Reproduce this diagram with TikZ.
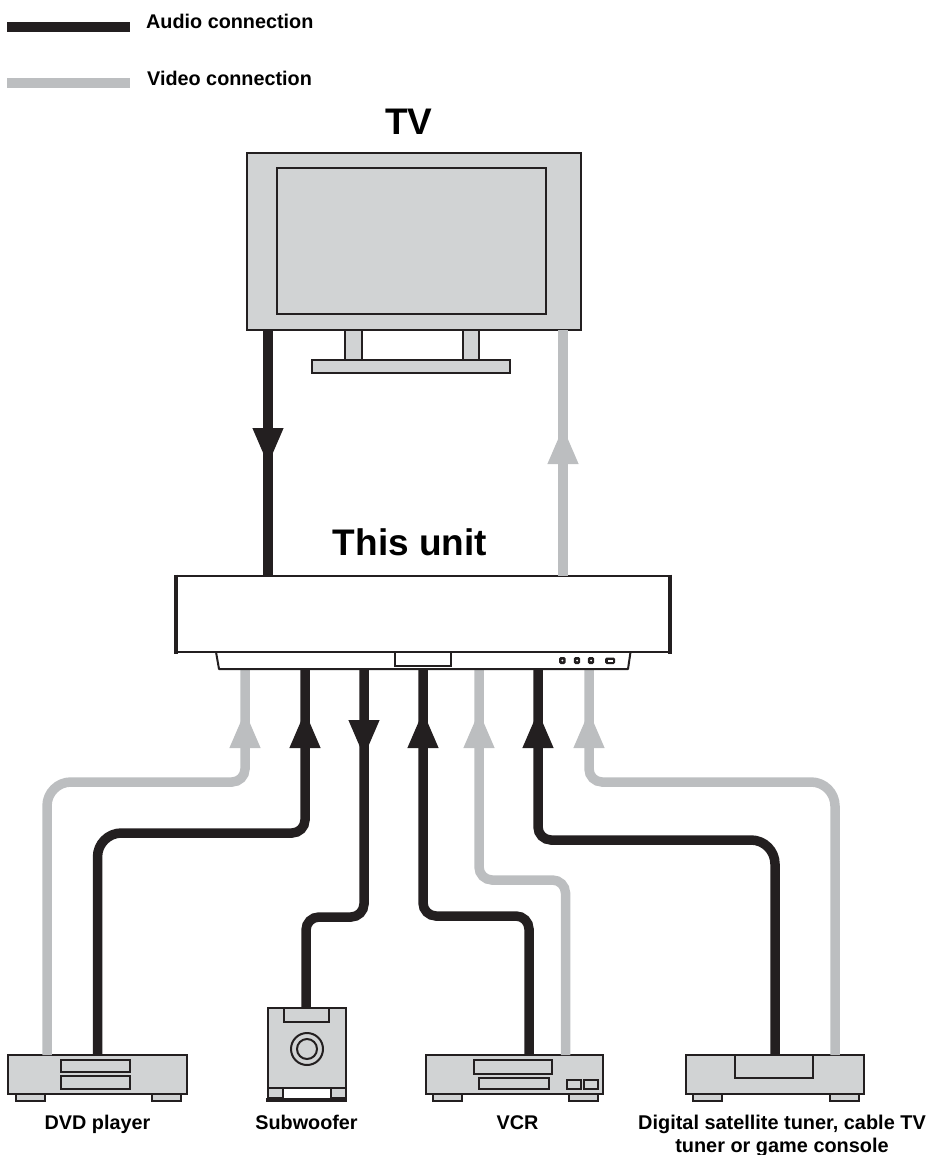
\documentclass[tikz,border=0pt]{standalone}
\usepackage{fontspec}
\setmainfont{Liberation Sans}
\usetikzlibrary{arrows.meta,decorations.markings}

\definecolor{inkblack}{HTML}{231F20}
\definecolor{cablegray}{HTML}{BCBEC0}
\definecolor{bodygray}{HTML}{D1D3D4}

\tikzset{
  audio/.style={line width=9.5pt,draw=inkblack},
  video/.style={line width=9.5pt,draw=cablegray},
  bigbend/.style={rounded corners=24pt},
  smallbend/.style={rounded corners=13pt},
  headat/.style={postaction={decorate,decoration={markings,
    mark=at position #1 with {\arrow{Triangle[length=38pt,width=28pt]}}}}},
  panel/.style={draw=inkblack,fill=bodygray,line width=2pt,inner sep=0pt,outer sep=0pt,anchor=north west},
  slot/.style={draw=inkblack,fill=bodygray,line width=2pt},
  smalltext/.style={font=\bfseries\fontsize{19.8}{23.5}\selectfont,align=center,inner sep=0pt,anchor=base},
  bigtext/.style={font=\bfseries\fontsize{37}{40}\selectfont,inner sep=0pt,anchor=base}
}

\begin{document}
\begin{tikzpicture}[x=1pt,y=-1pt]
  \useasboundingbox (0,0) rectangle (929,1155);

  %draw legend
  \coordinate (keyA) at (7,27);
  \coordinate (keyB) at (7,83);
  \node[smalltext,anchor=base west] (audiotext) at (146,29) {Audio connection};
  \node[smalltext,anchor=base west] (videotext) at (147,85.5) {Video connection};
  \draw[inkblack,line width=10pt] (keyA) -- ++(123,0);
  \draw[cablegray,line width=10pt] (keyB) -- ++(123,0);

  %draw titles
  \node[bigtext] (tvtext) at (409,135) {TV};
  \node[bigtext] (unittext) at (410,555) {This unit};

  %draw boxes
  \node[panel,minimum width=334pt,minimum height=177pt] (tv) at (247,153) {};
  \node[panel,fill=white,minimum width=494pt,minimum height=76pt] (unit) at (176,576) {};
  \node[panel,minimum width=179pt,minimum height=39pt] (dvd) at (8,1055) {};
  \node[panel,minimum width=78pt,minimum height=80pt] (sub) at (268,1008) {};
  \node[panel,minimum width=177pt,minimum height=39pt] (vcr) at (426,1055) {};
  \node[panel,minimum width=178pt,minimum height=39pt] (sat) at (686,1055) {};

  %draw connection ends
  \foreach \pname/\x in {u1/245,u2/305,u3/364,u4/423,u5/479,u6/538,u7/589}
    \coordinate (\pname) at (\x,669);
  \coordinate (dvdV) at ([xshift=-50.5pt]dvd.north);
  \coordinate (dvdA) at (dvd.north);
  \coordinate (subA) at ([xshift=-1pt]sub.north);
  \coordinate (vcrA) at ([xshift=14.5pt]vcr.north);
  \coordinate (vcrV) at ([xshift=51pt]vcr.north);
  \coordinate (satA) at (sat.north);
  \coordinate (satV) at ([xshift=60pt]sat.north);

  %draw cables
  \draw[audio,headat=136pt] ([xshift=-146pt]tv.south) -- ([xshift=-155pt]unit.north);
  \draw[video,headat=150pt] ([xshift=140pt]unit.north) -- ([xshift=149pt]tv.south);
  \draw[video,headat=-41pt] (dvdV) [bigbend] -- (dvdV |- 0,782) [smallbend] -- (u1 |- 0,782) -- (u1);
  \draw[audio,headat=-41pt] (dvdA) [bigbend] -- (dvdA |- 0,833) [smallbend] -- (u2 |- 0,833) -- (u2);
  \draw[audio,smallbend,headat=89pt] (u3) |- (subA |- 0,917) -- (subA);
  \draw[audio,smallbend,headat=-41pt] (vcrA) |- (u4 |- 0,916) -- (u4);
  \draw[video,smallbend,headat=-41pt] (vcrV) |- (u5 |- 0,880) -- (u5);
  \draw[audio,headat=-41pt] (satA) [bigbend] -- (satA |- 0,840) [smallbend] -- (u6 |- 0,840) -- (u6);
  \draw[video,headat=-41pt] (satV) [bigbend] -- (satV |- 0,782) [smallbend] -- (u7 |- 0,782) -- (u7);

  %draw tv
  \draw[slot] (277,168) rectangle (546,314);
  \draw[slot] (345,330) rectangle (362,360);
  \draw[slot] (463,330) rectangle (479,360);
  \draw[slot] (312,360) rectangle (510,373);

  %draw unit
  \draw[line width=4pt,inkblack] ([yshift=1.5pt]unit.north west) -- ([yshift=-1.5pt]unit.south west);
  \draw[line width=4pt,inkblack] ([yshift=1.5pt]unit.north east) -- ([yshift=-1.5pt]unit.south east);
  \draw[inkblack,line width=2pt,line join=round] (216,652) -- (219,669) -- (628,669) -- (630.5,652);
  \draw[inkblack,line width=2pt] (395,652) rectangle (450.5,666);
  \foreach \x in {562.3,577,591}
  {
    \fill[inkblack,rounded corners=1.5pt] (\x-3.2,657) rectangle (\x+3.2,664);
    \fill[white] (\x,660.5) circle (1);
  }
  \fill[inkblack,rounded corners=1.5pt] (605,657.5) rectangle (615,664);
  \fill[white] (607.5,660) rectangle (612.5,661.8);

  %draw dvd player
  \draw[slot] (61,1060) rectangle (130,1072);
  \draw[slot] (61,1076) rectangle (130,1089);
  \foreach \x in {16,152}
    \draw[slot] (\x,1094) rectangle ++(29,7);
  \node[smalltext] (dvdtext) at (97.5,1129) {DVD player};

  %draw subwoofer
  \draw[slot] (284,1008) rectangle (329,1022);
  \draw[inkblack,line width=2pt] (307,1049) circle (16);
  \draw[inkblack,line width=2pt] (307,1049) circle (10);
  \foreach \x in {268,331}
    \draw[slot] (\x,1088) rectangle ++(15,10);
  \draw[inkblack,line width=4pt] (266,1100) -- (347,1100);
  \node[smalltext] (subtext) at (306.5,1129) {Subwoofer};

  %draw vcr
  \draw[slot] (474,1060) rectangle (552,1074);
  \draw[slot] (479,1078) rectangle (549,1089);
  \draw[slot] (567,1080) rectangle (581,1089);
  \draw[slot] (584,1080) rectangle (598,1089);
  \foreach \x in {433,569}
    \draw[slot] (\x,1094) rectangle ++(29,7);
  \node[smalltext] (vcrtext) at (517.5,1129) {VCR};

  %draw tuner
  \draw[slot] (735,1055) rectangle (813,1078);
  \foreach \x in {693,830}
    \draw[slot] (\x,1094) rectangle ++(28.5,7);
  \node[smalltext,anchor=north,font=\bfseries\fontsize{19.9}{23.5}\selectfont] (sattext) at (782,1114.5) {Digital satellite tuner, cable TV\\tuner or game console};
\end{tikzpicture}
\end{document}
